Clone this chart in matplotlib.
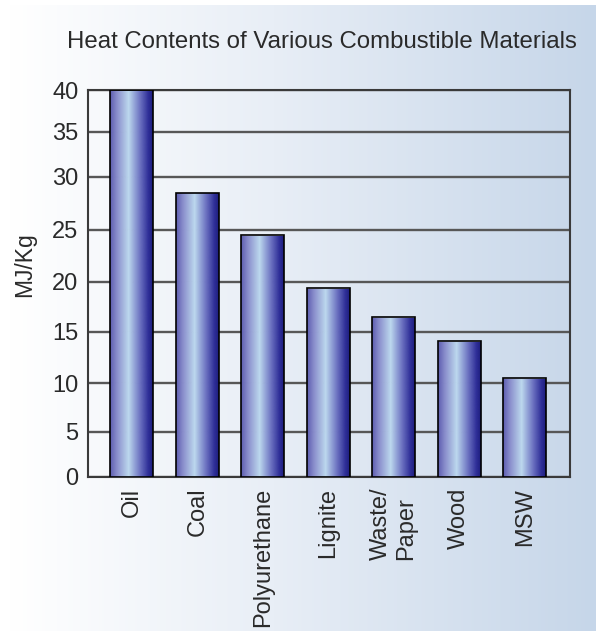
import numpy as np
import matplotlib
matplotlib.use("Agg")
import matplotlib.pyplot as plt
from matplotlib.colors import LinearSegmentedColormap

plt.rcParams["font.family"] = ["Liberation Sans", "DejaVu Sans"]

# --- data ---
categories = ["Oil", "Coal", "Polyurethane", "Lignite", "Waste/\nPaper", "Wood", "MSW"]
values = [40, 28.5, 24.5, 19.4, 16.5, 14.1, 10.5]
y_ticks = [0, 5, 10, 15, 20, 25, 30, 35, 40]
title = "Heat Contents of Various Combustible Materials"
y_label = "MJ/Kg"

# printed value scale: relative height of each tick on the axis (uneven spacing)
tick_heights = [0, 45, 93.7, 145, 195, 246.7, 300, 345, 386.7]
ext_vals = np.array([-40] + y_ticks + [80], dtype=float)
ext_h = np.array([-386.7] + tick_heights + [773.4], dtype=float)


def fwd(v):
    return np.interp(np.asarray(v, dtype=float), ext_vals, ext_h)


def inv(h):
    return np.interp(np.asarray(h, dtype=float), ext_h, ext_vals)


W, H = 596, 631
fig = plt.figure(figsize=(W / 100, H / 100), dpi=100)
fig.patch.set_facecolor("white")

# background wash: white on the left fading to pale blue on the right
bg = fig.add_axes([0, 0, 1, 1], zorder=0)
bg.set_xlim(0, 1)
bg.set_ylim(0, 1)
bg.axis("off")
bg_cmap = LinearSegmentedColormap.from_list(
    "wash", [(0.0, "#ffffff"), (0.45, "#e8eef6"), (1.0, "#c6d6e9")])
bg.imshow(np.linspace(0, 1, 256).reshape(1, -1), cmap=bg_cmap, aspect="auto",
          extent=[10 / W, 1, 0, 1 - 5 / H], interpolation="bicubic")

# main plot
ax = fig.add_axes([88 / W, 1 - 476.7 / H, 482 / W, 386.7 / H], zorder=1)
ax.patch.set_alpha(0)
ax.set_yscale("function", functions=(fwd, inv))

bar_cmap = LinearSegmentedColormap.from_list(
    "tube", [(0.0, "#6060b2"), (0.15, "#8a8ecc"), (0.42, "#bcd8ee"),
             (0.68, "#6e74c2"), (0.88, "#2e2e98"), (1.0, "#1a1a78")])
grad = np.linspace(0, 1, 256).reshape(1, -1)

x = np.arange(len(categories))
bars = ax.bar(x, values, width=0.66, facecolor="none", edgecolor="black",
              linewidth=1.2, zorder=4)
for b in bars:
    x0 = b.get_x()
    x1 = x0 + b.get_width()
    im = ax.imshow(grad, cmap=bar_cmap, aspect="auto", extent=[x0, x1, 0, b.get_height()],
                   interpolation="bicubic", zorder=3)
    im.set_clip_path(b)

ax.set_xlim(-0.67, 6.69)
ax.set_ylim(0, 40)
ax.set_yticks(y_ticks)
ax.set_yticklabels([str(t) for t in y_ticks])
ax.yaxis.grid(True, color="#575757", linewidth=1.7, zorder=1)
ax.set_axisbelow(True)

ax.set_xticks(x)
ax.set_xticklabels(categories, rotation=90, fontsize=17, va="top", ha="center",
                   multialignment="left", color="#2a2a2a")
ax.tick_params(axis="x", length=0, pad=8)
ax.tick_params(axis="y", length=0, pad=7, labelsize=17, labelcolor="#2a2a2a")

for s in ax.spines.values():
    s.set_color("#3a3a3a")
    s.set_linewidth(1.5)

fig.text(25 / W, 1 - 265 / H, y_label, rotation=90, ha="center", va="center",
         fontsize=16.5, color="#2a2a2a")
fig.text(322 / W, 1 - 42 / H, title, ha="center", va="center", fontsize=17.3,
         color="#2a2a2a")

fig.savefig("out.png", dpi=100)
